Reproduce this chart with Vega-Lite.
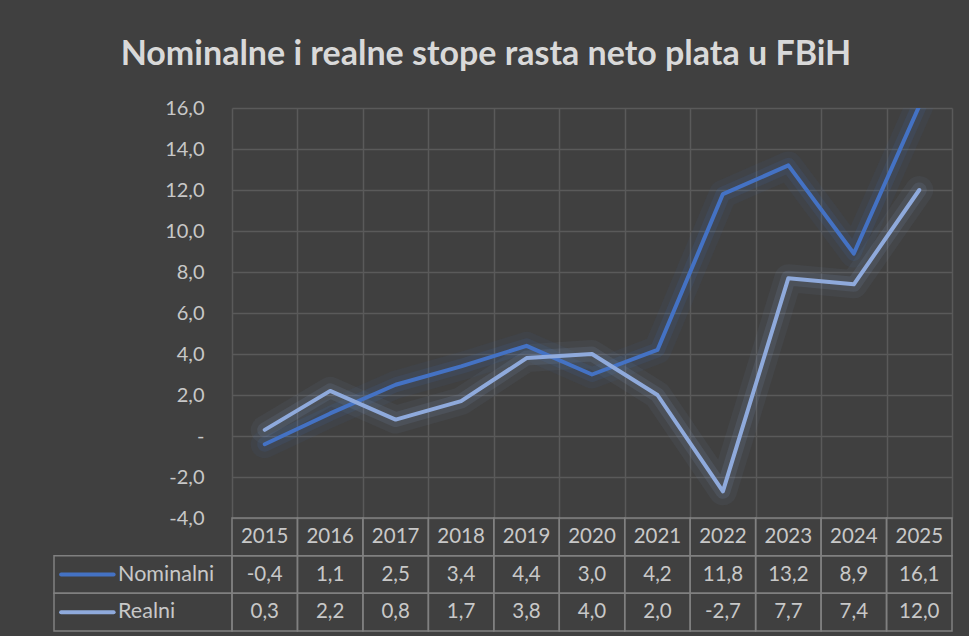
{
  "$schema": "https://vega.github.io/schema/vega-lite/v6.json",
  "background": "#404040",
  "padding": {"left": 53, "top": 38, "right": 17, "bottom": 4},
  "title": {
    "text": "Nominalne i realne stope rasta neto plata u FBiH",
    "font": "Lato",
    "fontSize": 34,
    "fontWeight": "bold",
    "color": "#d9d9d9",
    "anchor": "middle",
    "dx": -17,
    "offset": 26
  },
  "config": {"view": {"stroke": null}, "concat": {"spacing": 0}, "font": "Lato"},
  "bounds": "flush",
  "spacing": 0,
  "columns": 2,
  "resolve": {"scale": {"x": "independent", "y": "independent"}},
  "datasets": {
    "rates": [
      {"year": "2015", "series": "Nominalni", "value": -0.4},
      {"year": "2016", "series": "Nominalni", "value": 1.1},
      {"year": "2017", "series": "Nominalni", "value": 2.5},
      {"year": "2018", "series": "Nominalni", "value": 3.4},
      {"year": "2019", "series": "Nominalni", "value": 4.4},
      {"year": "2020", "series": "Nominalni", "value": 3.0},
      {"year": "2021", "series": "Nominalni", "value": 4.2},
      {"year": "2022", "series": "Nominalni", "value": 11.8},
      {"year": "2023", "series": "Nominalni", "value": 13.2},
      {"year": "2024", "series": "Nominalni", "value": 8.9},
      {"year": "2025", "series": "Nominalni", "value": 16.1},
      {"year": "2015", "series": "Realni", "value": 0.3},
      {"year": "2016", "series": "Realni", "value": 2.2},
      {"year": "2017", "series": "Realni", "value": 0.8},
      {"year": "2018", "series": "Realni", "value": 1.7},
      {"year": "2019", "series": "Realni", "value": 3.8},
      {"year": "2020", "series": "Realni", "value": 4.0},
      {"year": "2021", "series": "Realni", "value": 2.0},
      {"year": "2022", "series": "Realni", "value": -2.7},
      {"year": "2023", "series": "Realni", "value": 7.7},
      {"year": "2024", "series": "Realni", "value": 7.4},
      {"year": "2025", "series": "Realni", "value": 12.0}
    ]
  },
  "concat": [
    {
      "width": 178,
      "height": 410,
      "data": {"values": []},
      "mark": "point"
    },
    {
      "width": 720,
      "height": 410,
      "data": {"name": "rates"},
      "encoding": {
        "x": {
          "field": "year",
          "type": "ordinal",
          "bandPosition": 0.5,
          "scale": {"type": "band", "paddingInner": 0, "paddingOuter": 0},
          "axis": {"labels": false, "ticks": false, "domain": false, "title": null, "grid": true, "tickBand": "extent", "gridColor": "#5a5a5a", "gridWidth": 1.5}
        },
        "y": {
          "field": "value",
          "type": "quantitative",
          "scale": {"domain": [-4, 16], "nice": false, "zero": false},
          "axis": {
            "values": [-4, -2, 0, 2, 4, 6, 8, 10, 12, 14, 16],
            "labelExpr": "datum.value == 0 ? '-' : (datum.value < 0 ? '-' : '') + replace(format(abs(datum.value), '.1f'), '.', ',')",
            "grid": true,
            "gridColor": "#5a5a5a",
            "gridWidth": 1.5,
            "ticks": false,
            "domain": false,
            "labelFont": "Lato",
            "labelFontSize": 20,
            "labelColor": "#c8c8c8",
            "labelPadding": 28,
            "title": null
          }
        },
        "color": {
          "field": "series",
          "type": "nominal",
          "scale": {"domain": ["Nominalni", "Realni"], "range": ["#4472c4", "#8faadc"]},
          "legend": null
        }
      },
      "layer": [
        {"mark": {"type": "line", "strokeWidth": 28, "opacity": 0.06, "clip": true, "strokeJoin": "round", "strokeCap": "round"}},
        {"mark": {"type": "line", "strokeWidth": 15, "opacity": 0.11, "clip": true, "strokeJoin": "round", "strokeCap": "round"}},
        {"mark": {"type": "line", "strokeWidth": 4, "clip": true, "strokeJoin": "round", "strokeCap": "round"}}
      ]
    },
    {
      "width": 178,
      "height": 113,
      "data": {"name": "rates"},
      "transform": [
        {"aggregate": [{"op": "count", "as": "n"}], "groupby": ["series"]}
      ],
      "layer": [
        {
          "mark": {"type": "rect", "fill": "transparent", "stroke": "#808080", "strokeWidth": 1.5},
          "encoding": {
            "y": {"field": "series", "type": "ordinal", "scale": {"domain": ["header", "Nominalni", "Realni"], "paddingInner": 0, "paddingOuter": 0}, "axis": null},
            "x": {"datum": 0, "type": "quantitative", "scale": {"domain": [0, 1]}, "axis": null},
            "x2": {"datum": 1}
          }
        },
        {
          "mark": {"type": "rule", "strokeWidth": 4, "strokeCap": "round"},
          "encoding": {
            "y": {"field": "series", "type": "ordinal", "bandPosition": 0.5},
            "x": {"datum": 0.04, "type": "quantitative"},
            "x2": {"datum": 0.335},
            "color": {"field": "series", "type": "nominal", "legend": null}
          }
        },
        {
          "mark": {"type": "text", "align": "left", "baseline": "middle", "font": "Lato", "fontSize": 21.5, "color": "#c8c8c8"},
          "encoding": {
            "y": {"field": "series", "type": "ordinal", "bandPosition": 0.5},
            "x": {"datum": 0.36, "type": "quantitative"},
            "text": {"field": "series"}
          }
        }
      ]
    },
    {
      "width": 720,
      "height": 113,
      "data": {"name": "rates"},
      "transform": [
        {"calculate": "datum.series", "as": "row"},
        {"calculate": "(datum.value < 0 ? '-' : '') + replace(format(abs(datum.value), '.1f'), '.', ',')", "as": "label"}
      ],
      "encoding": {
        "x": {"field": "year", "type": "ordinal", "scale": {"type": "band", "paddingInner": 0, "paddingOuter": 0}, "axis": null},
        "y": {"field": "row", "type": "ordinal", "scale": {"domain": ["header", "Nominalni", "Realni"], "paddingInner": 0, "paddingOuter": 0}, "axis": null}
      },
      "layer": [
        {
          "transform": [
            {"filter": "datum.series == 'Nominalni'"},
            {"calculate": "'header'", "as": "row"},
            {"calculate": "datum.year", "as": "label"}
          ],
          "layer": [
            {"mark": {"type": "rect", "fill": "transparent", "stroke": "#808080", "strokeWidth": 1.5}},
            {"mark": {"type": "text", "font": "Lato", "fontSize": 20.5, "color": "#c8c8c8", "baseline": "middle"}, "encoding": {"text": {"field": "label"}}}
          ]
        },
        {"mark": {"type": "rect", "fill": "transparent", "stroke": "#808080", "strokeWidth": 1.5}},
        {"mark": {"type": "text", "font": "Lato", "fontSize": 20.5, "color": "#c8c8c8", "baseline": "middle"}, "encoding": {"text": {"field": "label"}}}
      ]
    }
  ]
}
